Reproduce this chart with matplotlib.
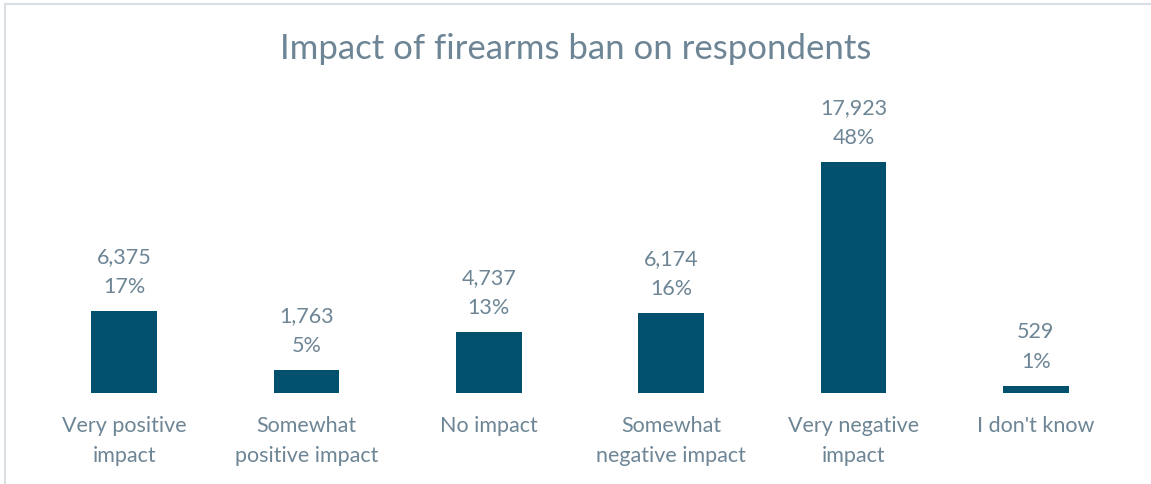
import matplotlib.pyplot as plt
from matplotlib.lines import Line2D

# survey counts per answer
categories = ["Very positive\nimpact", "Somewhat\npositive impact", "No impact",
              "Somewhat\nnegative impact", "Very negative\nimpact", "I don't know"]
counts = [6375, 1763, 4737, 6174, 17923, 529]
percents = [17, 5, 13, 16, 48, 1]

bar_color = "#00506E"
text_color = "#6D8595"
plt.rcParams['font.family'] = ['Lato', 'DejaVu Sans']

fig = plt.figure(figsize=(11.51, 4.85), dpi=100)
ax = fig.add_axes([33/1151, 91/485, 1094/1151, 231/485])

x = range(len(categories))
ax.bar(x, counts, width=0.36, color=bar_color)
ax.set_xlim(-0.5, len(categories) - 0.5)
ax.set_ylim(0, max(counts))

for i, (c, p) in enumerate(zip(counts, percents)):
    ax.annotate("{:,}\n{}%".format(c, p), (i, c), xytext=(0, 11),
                textcoords="offset points", ha="center", va="bottom",
                fontsize=15.5, color=text_color, linespacing=1.6,
                annotation_clip=False)

ax.set_xticks(list(x))
ax.set_xticklabels(categories, fontsize=15.5, color=text_color, linespacing=1.6,
                   va="top")
ax.tick_params(axis="x", length=0, pad=16)
ax.set_yticks([])
for s in ax.spines.values():
    s.set_visible(False)

fig.text(0.5, 1 - 49/485, "Impact of firearms ban on respondents", ha="center",
         va="center", fontsize=25, color=text_color)

# light frame on top and left edge
fig.add_artist(Line2D([4.5/1151, 4.5/1151], [0, 1 - 4.5/485], color="#DADFE3", lw=1.5))
fig.add_artist(Line2D([4.5/1151, 1], [1 - 4.5/485, 1 - 4.5/485], color="#DADFE3", lw=1.5))

fig.savefig("out.png", dpi=100)
